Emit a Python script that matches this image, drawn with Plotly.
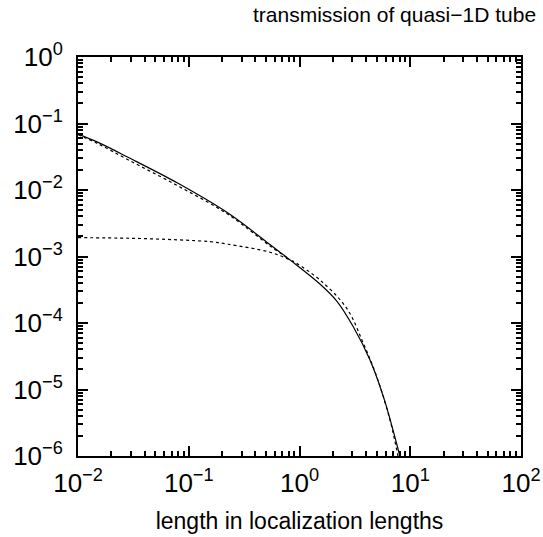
import plotly.graph_objects as go

# Data
solid_x = [0.01, 0.0152, 0.0283, 0.08, 0.226, 0.54, 0.82, 1.53, 2.17, 3.06, 4.33, 5.72, 7.8, 8.3]
solid_y = [0.0695, 0.052, 0.031, 0.0126, 4.5e-3, 1.52e-3, 8.9e-4, 3.85e-4, 2.14e-4, 8.8e-5, 2.78e-5, 7.8e-6, 1.23e-6, 8.0e-7]

upper_x = [0.01, 0.0152, 0.0283, 0.08, 0.226, 0.54, 0.82]
upper_y = [0.068, 0.0495, 0.0285, 0.0115, 4.3e-3, 1.45e-3, 8.9e-4]

lower_x = [0.01, 0.03, 0.08, 0.156, 0.226, 0.54, 0.82, 0.94, 1.53, 2.67, 3.77, 4.98, 6.56, 7.5, 7.9]
lower_y = [1.92e-3, 1.88e-3, 1.78e-3, 1.67e-3, 1.53e-3, 1.16e-3, 8.9e-4, 7.9e-4, 4.43e-4, 1.66e-4, 4.95e-5, 1.56e-5, 3.5e-6, 1.3e-6, 8.5e-7]

x_tickvals = [1e-2, 1e-1, 1e0, 1e1, 1e2]
x_ticktext = ["10<sup>−2</sup>", "10<sup>−1</sup>", "10<sup>0</sup>", "10<sup>1</sup>", "10<sup>2</sup>"]
y_tickvals = [1e-6, 1e-5, 1e-4, 1e-3, 1e-2, 1e-1, 1e0]
y_ticktext = ["10<sup>−6</sup>", "10<sup>−5</sup>", "10<sup>−4</sup>", "10<sup>−3</sup>",
              "10<sup>−2</sup>", "10<sup>−1</sup>", "10<sup>0</sup>"]

title_text = "transmission of quasi−1D tube"
xaxis_title = "length in localization lengths"

FONT = "Liberation Sans"

fig = go.Figure()
line_common = dict(color="black", width=1.2, shape="spline", smoothing=1.0)
fig.add_trace(go.Scatter(x=solid_x, y=solid_y, mode="lines", line=dict(**line_common)))
fig.add_trace(go.Scatter(x=upper_x, y=upper_y, mode="lines", line=dict(dash="dot", **line_common)))
fig.add_trace(go.Scatter(x=lower_x, y=lower_y, mode="lines", line=dict(dash="dot", **line_common)))

axis_common = dict(
    showgrid=False, zeroline=False, showline=True, linecolor="black", linewidth=2,
    mirror="allticks", ticks="inside", ticklen=10, tickwidth=1.5, tickcolor="black",
    tickfont=dict(family=FONT, size=26, color="black"),
    minor=dict(ticks="inside", ticklen=5, tickwidth=1.5, tickcolor="black", dtick="D1"),
    automargin=False,
)

fig.update_xaxes(type="log", range=[-2, 2], tickvals=x_tickvals, ticktext=x_ticktext,
                 ticklabelstandoff=3,
                 title=dict(text=xaxis_title, font=dict(family=FONT, size=23, color="black"), standoff=16),
                 **axis_common)
fig.update_yaxes(type="log", range=[-6, 0], tickvals=y_tickvals, ticktext=y_ticktext,
                 ticklabelstandoff=8, **axis_common)

fig.update_layout(
    width=543, height=537,
    margin=dict(l=78, r=22, t=57, b=81),
    paper_bgcolor="white", plot_bgcolor="white",
    showlegend=False,
)
fig.add_annotation(text=title_text, xref="paper", yref="paper", x=1.0, y=1.0,
                   xanchor="right", yanchor="middle", xshift=17, yshift=43,
                   showarrow=False, font=dict(family=FONT, size=21, color="black"))

fig.write_html("out.html", config={"displayModeBar": False},
               post_script="document.body.style.margin='0';document.body.style.padding='0';")
